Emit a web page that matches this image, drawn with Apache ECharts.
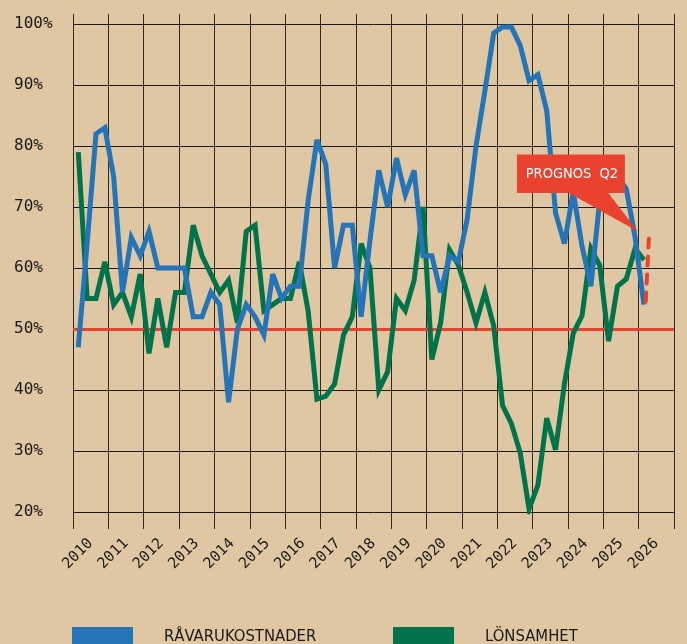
<!DOCTYPE html>
<html>
<head>
<meta charset="utf-8">
<title>Råvarukostnader och lönsamhet</title>
<script src="https://cdn.jsdelivr.net/npm/echarts@6/dist/echarts.min.js"></script>
<style>
	html,body{margin:0;padding:0;background:#dfc7a3;}
	#chart{width:687px;height:644px;}
</style>
</head>
<body>
<div id="chart"></div>
<script>
// årtal på x-axeln (ett band per år)
var years=['2010','2011','2012','2013','2014','2015','2016','2017','2018','2019','2020','2021','2022','2023','2024','2025','2026'];
var yTicks=[20,30,40,50,60,70,80,90,100];

// kvartalsvärden från 2010 K1 till 2026 K1, i procent
var ravarukostnader=[47,64,82,83, 75,56,65,62, 66,60,60,60, 60,52,52,56,
	54,38,50,54, 52,49,59,55, 57,57,71,81, 77,60,67,67,
	52,64.5,76,70, 78,72,76,62, 62,56,62,61, 68,80,89,98.5,
	99.5,99.5,96.5,90.7, 91.7,85.8,69,64, 72.5,63.5,57,71.2, 74,75,73,65,
	54];
var lonsamhet=[79,55,55,61, 54,56,52,59, 46,55,47,56, 56,67,62,59,
	56,58,51,66, 67,53,54,55, 55,61,53,38.5, 39,41,49,52,
	64,60,40,43, 55,53,58,70, 45,51,63,60.5, 56,51,56,50.5,
	37.5,34.5,29.7,20.5, 24.4,35.4,30.2,41, 49.3,52.2,63.2,60.4, 48,57,58.2,63.2,
	61.3];

// prognos för kvartal 2
var prognosX=[2026.2,2026.3];
var prognosY=[54.5,66];
var calloutAt=[2025.98,66];

var colors={
	bg:'#dfc7a3',
	blue:'#2574b8',
	green:'#00734a',
	red:'#e9432f',
	grid:'#1a1a1a',
	vgrid:'#2e2820'
};
var monoFont='"DejaVu Sans Mono", "Liberation Mono", monospace';
var narrowFont='"Liberation Sans Narrow", "DejaVu Sans Condensed", Roboto, sans-serif';

function quarterX(i){
	return Number(years[0])+i/4+0.15;
}
function toPoints(values){
	var out=[];
	for(var i=0;i<values.length;i++){
		out.push([quarterX(i),values[i]]);
	}
	return out;
}
function zipPoints(xs,ys){
	var out=[];
	for(var i=0;i<xs.length;i++){out.push([xs[i],ys[i]]);}
	return out;
}

var chart=echarts.init(document.getElementById('chart'),null,{renderer:'canvas'});

var option={
	backgroundColor:colors.bg,
	animation:false,
	grid:{left:73,right:13,top:24,height:488,containLabel:false},
	legend:[{
		data:['RÅVARUKOSTNADER'],
		left:72,top:627,padding:0,
		icon:'rect',itemWidth:61,itemHeight:20,
		selectedMode:false,
		textStyle:{fontFamily:narrowFont,fontSize:16.5,color:'#1a1a1a',padding:[0,0,0,26]}
	},{
		data:['LÖNSAMHET'],
		left:393,top:627,padding:0,
		icon:'rect',itemWidth:61,itemHeight:20,
		selectedMode:false,
		textStyle:{fontFamily:narrowFont,fontSize:16.5,color:'#1a1a1a',padding:[0,0,0,26]}
	}],
	xAxis:[{
		type:'category',
		data:years,
		position:'bottom',
		boundaryGap:true,
		axisLine:{show:false},
		axisTick:{show:true,interval:0,length:17,lineStyle:{color:colors.vgrid,width:1}},
		splitLine:{show:true,interval:0,lineStyle:{color:colors.vgrid,width:1}},
		axisLabel:{interval:0,rotate:45,margin:29,fontFamily:monoFont,fontSize:15,color:'#1a1a1a'}
	},{
		type:'value',
		min:2010,max:2027,
		show:false
	},{
		type:'category',
		data:years,
		position:'top',
		boundaryGap:true,
		axisLine:{show:false},
		axisTick:{show:true,interval:0,length:10,lineStyle:{color:colors.vgrid,width:1}},
		axisLabel:{show:false},
		splitLine:{show:false}
	}],
	yAxis:{
		type:'value',
		min:yTicks[0],max:yTicks[yTicks.length-1],interval:10,
		axisLine:{show:false},
		axisTick:{show:false},
		splitLine:{lineStyle:{color:colors.grid,width:1}},
		axisLabel:{
			align:'left',margin:59,
			fontFamily:monoFont,fontSize:16,color:'#1a1a1a',
			formatter:function(v){return v+'%';}
		}
	},
	series:[{
		name:'gräns',
		type:'line',
		xAxisIndex:1,
		data:[],
		z:1,
		markLine:{
			silent:true,symbol:'none',z:1,
			label:{show:false},
			lineStyle:{color:colors.red,width:3,type:'solid'},
			data:[{yAxis:50}]
		}
	},{
		name:'LÖNSAMHET',
		type:'line',
		xAxisIndex:1,
		data:toPoints(lonsamhet),
		showSymbol:false,symbol:'none',
		color:colors.green,
		lineStyle:{color:colors.green,width:5,join:'miter',miterLimit:4},
		z:2
	},{
		name:'RÅVARUKOSTNADER',
		type:'line',
		xAxisIndex:1,
		data:toPoints(ravarukostnader),
		showSymbol:false,symbol:'none',
		color:colors.blue,
		lineStyle:{color:colors.blue,width:5,join:'miter',miterLimit:4},
		z:3
	},{
		name:'prognos',
		type:'line',
		xAxisIndex:1,
		data:zipPoints(prognosX,prognosY),
		showSymbol:false,symbol:'none',
		lineStyle:{color:colors.red,width:4,type:[9,9],cap:'round'},
		z:3
	}]
};
chart.setOption(option);

// pratbubbla "PROGNOS Q2"
var tip=chart.convertToPixel({xAxisIndex:1,yAxisIndex:0},calloutAt);
chart.setOption({
	graphic:[{
		type:'group',
		x:tip[0],y:tip[1],
		z:20,
		children:[{
			type:'polygon',
			shape:{points:[[-70,-39],[-30,-39],[0,0]]},
			style:{fill:colors.red},
			z:20
		},{
			type:'rect',
			shape:{x:-121,y:-77,width:108,height:38.5},
			style:{fill:colors.red},
			z:20
		},{
			type:'text',
			x:-66,y:-57.5,
			style:{text:'PROGNOS  Q2',fill:'#fff',font:'14.5px '+narrowFont,align:'center',verticalAlign:'middle'},
			z:21
		}]
	}]
});
</script>
</body>
</html>
